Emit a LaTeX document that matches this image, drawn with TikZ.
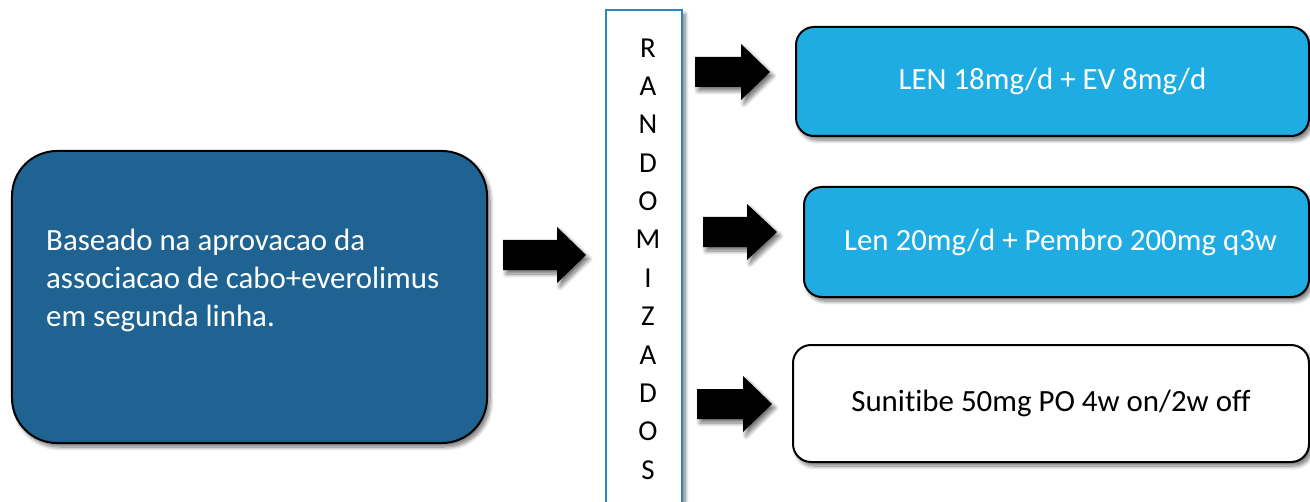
\documentclass[tikz,border=0pt]{standalone}
\usepackage{fontspec}
\setmainfont{Carlito}[Ligatures=NoCommon]
\usetikzlibrary{shadows.blur}
\definecolor{darkbox}{RGB}{31,99,147}
\definecolor{lightbox}{RGB}{30,172,227}
\definecolor{randborder}{RGB}{45,136,191}
\tikzset{
  softshadow/.style={blur shadow={shadow xshift=3bp, shadow yshift=-4bp, shadow blur radius=4bp,
    shadow blur steps=8, shadow opacity=55}},
  armbox/.style={draw=black, line width=2bp, rounded corners=18bp, inner sep=0pt, softshadow,
    font=\fontsize{31}{37}\selectfont},
  blockarrow/.style={fill=black, softshadow},
}
% block arrow: tail x, head-start x, tip x, centre y (y measured downward, drawn as -y)
\newcommand{\blockarr}[4]{%
  \fill[blockarrow] (#1,-#4+15) -- (#2,-#4+15) -- (#2,-#4+28) -- (#3,-#4) -- (#2,-#4-28) -- (#2,-#4-15) -- (#1,-#4-15) -- cycle;}
\begin{document}
\begin{tikzpicture}[x=1bp,y=1bp]
\useasboundingbox (0,0) rectangle (1310,-502);
\clip (0,0) rectangle (1310,-502);
% left box
\node[draw=black, line width=2bp, fill=darkbox, rounded corners=45bp, inner sep=0pt,
  minimum width=475bp, minimum height=292bp, softshadow] (basis) at (249.5,-297) {};
\node[anchor=base west, align=left, text=white, inner sep=0pt,
  font=\fontsize{31}{38}\selectfont] (basistext) at (46,-326)
  {Baseado na aprovacao da\\associacao de cabo+everolimus\\em segunda linha.};
% randomization column
\node[draw=randborder, line width=2.5bp, fill=white, inner sep=0pt, anchor=north,
  minimum width=76bp, minimum height=520bp, softshadow] (randbox) at (644,-9) {};
\node[align=center, inner sep=0pt, font=\fontsize{29}{38.5}\selectfont] (randtext) at (648,-259)
  {R\\A\\N\\D\\O\\M\\I\\Z\\A\\D\\O\\S};
% arms
\node[armbox, fill=lightbox, text=white, minimum width=513bp, minimum height=109bp] (arm1)
  at (1052.5,-81.5) {LEN 18mg/d + EV 8mg/d};
\node[armbox, fill=lightbox, text=white, minimum width=505bp, minimum height=110bp] (arm2)
  at (1056.5,-242) {\hspace*{8bp}Len 20mg/d + Pembro 200mg q3w};
\node[armbox, fill=white, text=black, minimum width=516bp, minimum height=117bp] (arm3)
  at (1051,-403.5) {Sunitibe 50mg PO 4w on/2w off};
% block arrows
\blockarr{503}{557}{586}{255}
\blockarr{695}{741}{770}{72}
\blockarr{703}{747}{777}{232}
\blockarr{697}{743}{772}{404}
\end{tikzpicture}
\end{document}
